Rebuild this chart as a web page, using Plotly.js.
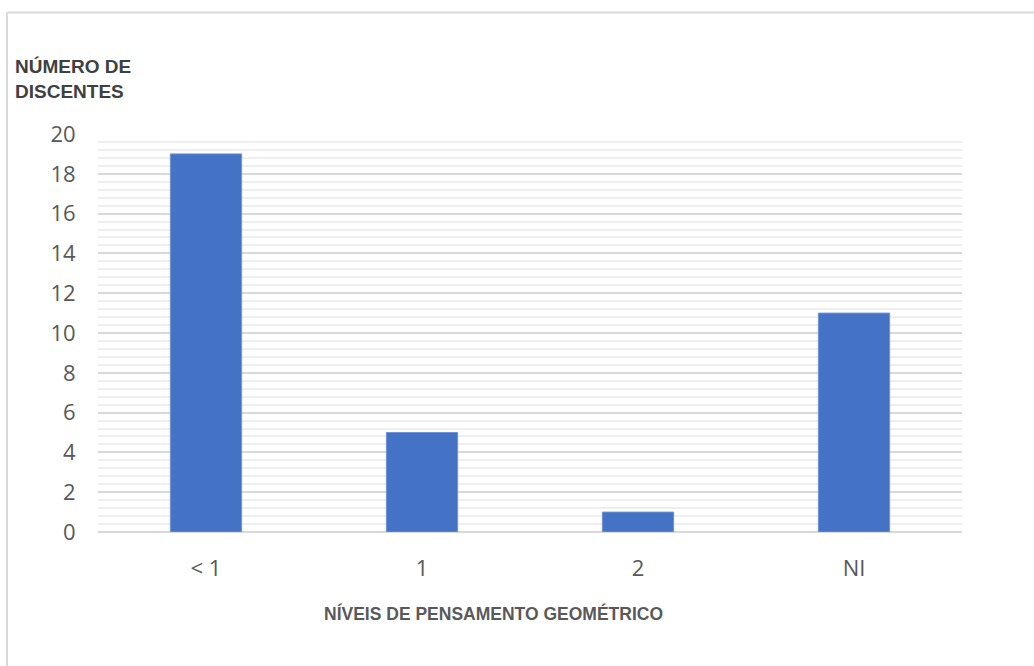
<!DOCTYPE html>
<html>
<head>
<meta charset="utf-8">
<script src="https://cdn.plot.ly/plotly-3.0.1.min.js"></script>
<style>html,body{margin:0;padding:0;background:#fff;}#chart{width:1034px;height:666px;}</style>
</head>
<body>
<div id="chart"></div>
<script>
const categories = ['< 1', '1', '2', 'NI'];
const values = [19, 5, 1, 11];
const yTitle = 'NÚMERO DE<br>DISCENTES';
const xTitle = 'NÍVEIS DE PENSAMENTO GEOMÉTRICO';

const L = 98, R = 962, T = 134, B = 532;
const W = R - L, H = B - T;
const px = x => (x - L) / W;
const py = y => (B - y) / H;

const trace = {
  type: 'bar',
  x: categories,
  y: values,
  marker: {color: '#4472C4', line: {color: '#6f93d6', width: 1}},
  hoverinfo: 'x+y'
};

const tickFont = {family: 'Open Sans, Liberation Sans, sans-serif', size: 22, color: '#595959'};

const layout = {
  width: 1034, height: 666,
  margin: {l: L, r: 1034 - R, t: T, b: 666 - B},
  paper_bgcolor: '#ffffff',
  plot_bgcolor: '#ffffff',
  showlegend: false,
  bargap: 0.67,
  xaxis: {
    type: 'category',
    showgrid: false,
    zeroline: false,
    showline: false,
    ticks: 'outside', ticklen: 17, tickcolor: 'rgba(0,0,0,0)',
    tickfont: tickFont,
    fixedrange: true
  },
  yaxis: {
    range: [0, 20],
    dtick: 2,
    showgrid: true,
    gridcolor: '#d9d9d9',
    gridwidth: 2,
    zeroline: true,
    zerolinecolor: '#d9d9d9',
    zerolinewidth: 2,
    showline: false,
    ticks: 'outside', ticklen: 17, tickcolor: 'rgba(0,0,0,0)',
    tickfont: tickFont,
    minor: {dtick: 0.4, showgrid: true, gridcolor: '#efefef', gridwidth: 2},
    fixedrange: true
  },
  annotations: [
    {
      text: '<b>' + yTitle + '</b>',
      xref: 'paper', yref: 'paper',
      x: px(13), y: py(54),
      xanchor: 'left', yanchor: 'top', align: 'left',
      showarrow: false,
      font: {family: 'Liberation Sans, Arial, sans-serif', size: 19, color: '#404040'}
    },
    {
      text: '<b>' + xTitle + '</b>',
      xref: 'paper', yref: 'paper',
      x: px(493), y: py(613),
      xanchor: 'center', yanchor: 'middle',
      showarrow: false,
      font: {family: 'Liberation Sans, Arial, sans-serif', size: 17.5, color: '#595959'}
    }
  ],
  shapes: [
    {type: 'line', xref: 'paper', yref: 'paper', x0: px(7), x1: px(1040), y0: py(12.5), y1: py(12.5), line: {color: '#d9d9d9', width: 2}},
    {type: 'line', xref: 'paper', yref: 'paper', x0: px(7), x1: px(7), y0: py(12.5), y1: py(670), line: {color: '#d9d9d9', width: 2}}
  ]
};

Plotly.newPlot('chart', [trace], layout, {displayModeBar: false, staticPlot: true});
</script>
</body>
</html>
